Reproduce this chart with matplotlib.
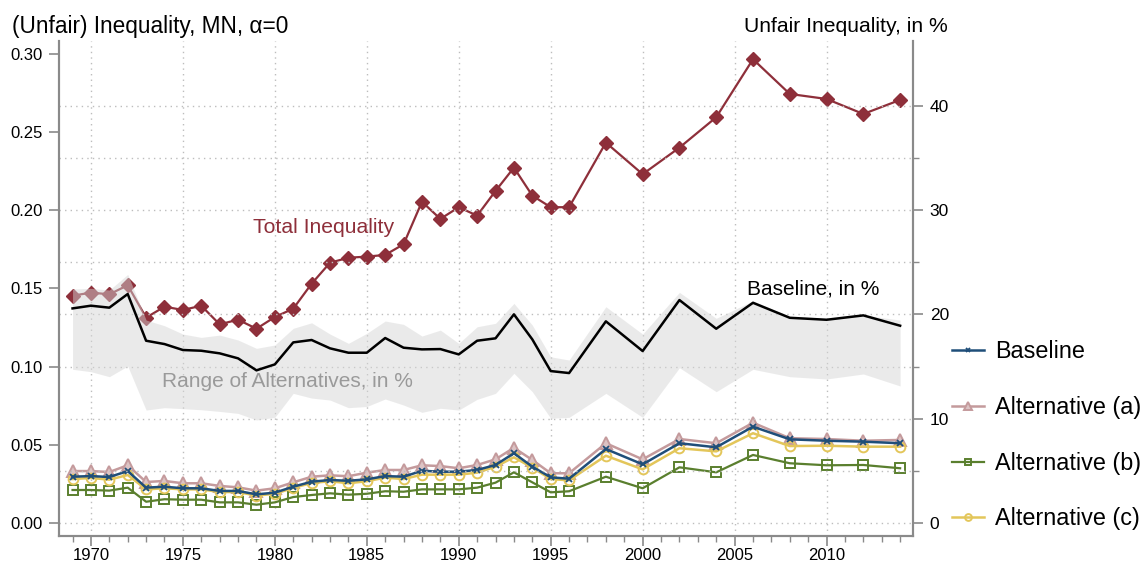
import matplotlib
matplotlib.use("Agg")
import matplotlib.pyplot as plt
from matplotlib.ticker import MultipleLocator, FixedLocator

plt.rcParams['font.family'] = ['Liberation Sans', 'DejaVu Sans']

years = list(range(1969, 1997)) + [1998, 2000, 2002, 2004, 2006, 2008, 2010, 2012, 2014]

total_ineq = [0.1453, 0.1473, 0.1462, 0.1520, 0.1313, 0.1383, 0.1362, 0.1389, 0.1270, 0.1300,
              0.1242, 0.1317, 0.1370, 0.1530, 0.1664, 0.1696, 0.1703, 0.1714, 0.1782, 0.2054,
              0.1944, 0.2019, 0.1965, 0.2123, 0.2272, 0.2093, 0.2019, 0.2019,
              0.2432, 0.2230, 0.2400, 0.2594, 0.2965, 0.2743, 0.2711, 0.2615, 0.2705]

baseline_pct = [20.58, 20.84, 20.65, 21.96, 17.48, 17.16, 16.59, 16.52, 16.27, 15.79,
                14.64, 15.21, 17.32, 17.55, 16.75, 16.33, 16.33, 17.74, 16.81, 16.65,
                16.68, 16.17, 17.48, 17.71, 20.01, 17.61, 14.57, 14.38,
                19.34, 16.49, 21.38, 18.63, 21.12, 19.68, 19.49, 19.91, 18.92]

range_hi = [22.44, 22.50, 22.34, 23.84, 19.46, 18.92, 18.12, 17.80, 18.02, 17.55,
            16.75, 17.07, 18.67, 19.20, 18.12, 17.23, 18.19, 19.37, 19.05, 17.93,
            18.50, 17.23, 18.82, 19.15, 21.06, 18.98, 15.94, 15.63,
            20.74, 18.12, 22.12, 19.63, 21.31, 19.78, 19.63, 19.94, 19.46]

range_lo = [14.74, 14.51, 14.03, 15.05, 10.83, 11.06, 10.96, 10.86, 10.70, 10.51,
            9.88, 10.13, 12.43, 11.98, 11.79, 11.06, 11.17, 11.89, 11.31, 10.61,
            11.00, 10.83, 11.86, 12.43, 14.35, 12.59, 10.04, 10.13,
            12.43, 10.13, 14.89, 12.59, 14.74, 14.03, 13.81, 14.29, 13.14]

baseline = [0.0296, 0.0300, 0.0294, 0.0332, 0.0226, 0.0232, 0.0222, 0.0222, 0.0205, 0.0205,
            0.0183, 0.0194, 0.0232, 0.0264, 0.0275, 0.0270, 0.0279, 0.0300, 0.0296, 0.0334,
            0.0328, 0.0328, 0.0339, 0.0371, 0.0446, 0.0360, 0.0292, 0.0283,
            0.0473, 0.0375, 0.0510, 0.0484, 0.0616, 0.0535, 0.0526, 0.0520, 0.0510]

alt_a = [0.0332, 0.0332, 0.0326, 0.0369, 0.0262, 0.0269, 0.0254, 0.0254, 0.0237, 0.0228,
         0.0207, 0.0222, 0.0260, 0.0296, 0.0305, 0.0299, 0.0322, 0.0339, 0.0339, 0.0369,
         0.0364, 0.0350, 0.0371, 0.0407, 0.0481, 0.0403, 0.0318, 0.0318,
         0.0510, 0.0407, 0.0537, 0.0510, 0.0641, 0.0542, 0.0537, 0.0526, 0.0531]

alt_b = [0.0211, 0.0211, 0.0207, 0.0226, 0.0136, 0.0152, 0.0149, 0.0149, 0.0132, 0.0132,
         0.0117, 0.0132, 0.0166, 0.0179, 0.0190, 0.0181, 0.0187, 0.0203, 0.0200, 0.0215,
         0.0215, 0.0215, 0.0226, 0.0258, 0.0324, 0.0260, 0.0196, 0.0203,
         0.0296, 0.0222, 0.0356, 0.0324, 0.0435, 0.0382, 0.0369, 0.0371, 0.0350]

alt_c = [0.0281, 0.0288, 0.0277, 0.0307, 0.0215, 0.0222, 0.0215, 0.0215, 0.0198, 0.0198,
         0.0175, 0.0187, 0.0224, 0.0256, 0.0267, 0.0254, 0.0267, 0.0290, 0.0281, 0.0309,
         0.0309, 0.0309, 0.0322, 0.0360, 0.0420, 0.0354, 0.0281, 0.0273,
         0.0430, 0.0343, 0.0478, 0.0458, 0.0574, 0.0492, 0.0494, 0.0488, 0.0488]

left_ticks = [0.00, 0.05, 0.10, 0.15, 0.20, 0.25, 0.30]
right_ticks = [0, 10, 20, 30, 40]
x_ticks = [1970, 1975, 1980, 1985, 1990, 1995, 2000, 2005, 2010]

C_TOTAL = '#8E2F3A'
C_BASE = '#1F4E79'
C_A = '#C49A9C'
C_B = '#5A7F2E'
C_C = '#E3C65A'
SPINE = '#8A8A8A'
GRID = '#BDBDBD'

fig = plt.figure(figsize=(11.41, 5.65), dpi=100)
ax = fig.add_axes([59.3 / 1141, 1 - 536.3 / 565, (913 - 59.3) / 1141, (536.3 - 41.4) / 565])
ax2 = ax.twinx()

scale = 150.0
ymin, ymax = -0.0085, 0.3079
ax.set_ylim(ymin, ymax)
ax2.set_ylim(ymin * scale, ymax * scale)
ax.set_xlim(1968.28, 2014.7)

# left-axis series
ax.plot(years, total_ineq, color=C_TOTAL, lw=1.6, marker='D', ms=7.5, mfc=C_TOTAL, mec=C_TOTAL, zorder=3)
ax.plot(years, alt_a, color=C_A, lw=1.8, marker='^', ms=8, mfc='#DCC3C4', mec=C_A, mew=1.4, zorder=4, label='Alternative (a)')
ax.plot(years, alt_b, color=C_B, lw=1.6, marker='s', ms=7, mfc='none', mec=C_B, mew=1.4, zorder=4, label='Alternative (b)')
ax.plot(years, alt_c, color=C_C, lw=1.8, marker='o', ms=7, mfc='none', mec=C_C, mew=1.4, zorder=5, label='Alternative (c)')
ax.plot(years, baseline, color=C_BASE, lw=1.8, marker='x', ms=5, mew=1.3, zorder=6, label='Baseline')

# right-axis series
ax2.fill_between(years, range_lo, range_hi, color='#D5D5D5', alpha=0.48, lw=0, zorder=2)
ax2.plot(years, baseline_pct, color='black', lw=1.8, zorder=3)

# ticks
ax.xaxis.set_major_locator(FixedLocator(x_ticks))
ax.xaxis.set_minor_locator(MultipleLocator(1))
ax.yaxis.set_major_locator(FixedLocator(left_ticks))
ax.set_yticklabels([f'{t:.2f}' for t in left_ticks])
ax2.yaxis.set_major_locator(FixedLocator(right_ticks))
ax2.yaxis.set_minor_locator(FixedLocator([5, 15, 25, 35]))
ax2.set_yticklabels([str(t) for t in right_ticks])

ax.tick_params(axis='x', which='major', length=7, width=1.2, color=SPINE, labelsize=12, pad=1.5)
ax.tick_params(axis='x', which='minor', length=4, width=1.0, color=SPINE)
ax.tick_params(axis='y', which='major', length=7, width=1.2, color=SPINE, labelsize=12, pad=5)
ax2.tick_params(axis='y', which='major', length=7, width=1.2, color=SPINE, labelsize=12.5, pad=5)
ax2.tick_params(axis='y', which='minor', length=4, width=1.0, color=SPINE)

# grids
ax.grid(axis='x', which='major', color=GRID, ls=(0, (1, 3)), lw=1.0)
ax2.grid(axis='y', which='both', color=GRID, ls=(0, (1, 3)), lw=1.0)
ax2.set_axisbelow(True)

for a in (ax, ax2):
    a.spines['top'].set_visible(False)
    for s in ('left', 'right', 'bottom'):
        a.spines[s].set_color(SPINE)
        a.spines[s].set_linewidth(1.5)

# annotations
ax.text(1978.8, 0.189, 'Total Inequality', color=C_TOTAL, fontsize=15.2, va='center', ha='left')
ax2.text(1973.86, 0.0902, 'Range of Alternatives, in %', color='#9A9A9A', fontsize=15.0,
         va='center', ha='left', transform=ax.transData, zorder=5)
ax2.text(2005.67, 0.1496, 'Baseline, in %', color='black', fontsize=15.0,
         va='center', ha='left', transform=ax.transData, zorder=5)

fig.text(12 / 1141, 1 - 27 / 565, '(Unfair) Inequality, MN, \u03b1=0', fontsize=16.3, ha='left', va='center')
fig.text(948 / 1141, 1 - 27 / 565, 'Unfair Inequality, in %', fontsize=15.2, ha='right', va='center')

handles, labels = ax.get_legend_handles_labels()
order = ['Baseline', 'Alternative (a)', 'Alternative (b)', 'Alternative (c)']
hmap = dict(zip(labels, handles))
fig.legend([hmap[k] for k in order], order, loc='center left', bbox_to_anchor=(931 / 1141, 1 - 435.5 / 565),
           frameon=False, fontsize=16.8, labelspacing=1.4, handlelength=1.35, handletextpad=0.5,
           markerscale=0.7)

fig.savefig('out.png', dpi=100)
